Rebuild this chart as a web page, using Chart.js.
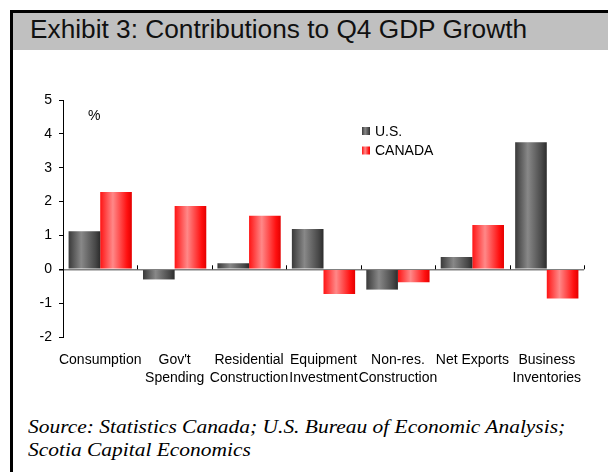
<!DOCTYPE html>
<html>
<head>
<meta charset="utf-8">
<script src="https://cdn.jsdelivr.net/npm/chart.js@4.4.1/dist/chart.umd.min.js"></script>
<style>
  body { margin: 0; background: #fff; }
  #wrap { position: relative; width: 608px; height: 472px; overflow: hidden; }
  #frame { position: absolute; left: 10px; top: 10px; width: 600px; height: 470px;
           border-left: 3px solid #000; border-top: 3px solid #000; }
  #band { position: absolute; left: 13px; top: 13px; width: 595px; height: 37px; background: #c0c0c0; }
  #title { position: absolute; left: 30px; top: 17px; font: 25px 'Liberation Sans', Arial, sans-serif;
           line-height: 25px; color: #111; white-space: nowrap;
           transform: scaleX(1.05); transform-origin: 0 0; }
  #source { position: absolute; left: 28px; top: 416px; font: italic 19.5px 'Liberation Serif', 'Times New Roman', serif;
            line-height: 22.5px; color: #000; white-space: nowrap;
            transform: scaleX(1.1); transform-origin: 0 0; }
  canvas { position: absolute; left: 0; top: 0; }
</style>
</head>
<body>
<div id="wrap">
  <div id="frame"></div>
  <div id="band"></div>
  <div id="title">Exhibit 3: Contributions to Q4 GDP Growth</div>
  <div id="source">Source: Statistics Canada; U.S. Bureau of Economic Analysis;<br>Scotia Capital Economics</div>
  <canvas id="gdp_chart" width="608" height="472"></canvas>
</div>
<script>
// contributions to Q4 GDP growth, percentage points
const categories = [
  ['Consumption'], ["Gov't", 'Spending'], ['Residential', 'Construction'],
  ['Equipment', 'Investment'], ['Non-res.', 'Construction'], ['Net Exports'], ['Business', 'Inventories']
];
const usValues = [1.12, -0.30, 0.18, 1.19, -0.60, 0.36, 3.75];
const canadaValues = [2.28, 1.87, 1.58, -0.73, -0.38, 1.31, -0.86];
const seriesNames = ['U.S.', 'CANADA'];
const yTicks = { min: -2, max: 5, step: 1 };

const CAT_PCT = 0.85;
const shades = [
  ['#3a3a3a', '#888888', '#474747', '#2c2c2c'],
  ['#ff1414', '#ff8888', '#ff1010', '#e40000']
];

function shadeGradient(c, left, width, stops) {
  const g = c.createLinearGradient(left, 0, left + width, 0);
  g.addColorStop(0, stops[0]);
  g.addColorStop(0.4, stops[1]);
  g.addColorStop(0.85, stops[2]);
  g.addColorStop(1, stops[3]);
  return g;
}

// cylinder-like horizontal shading, worked out from the x scale
function barFill(ctx) {
  const chart = ctx.chart;
  const xs = chart.scales.x;
  const stops = shades[ctx.datasetIndex];
  if (!xs || !chart.chartArea || ctx.dataIndex === undefined) return stops[1];
  const catW = xs.width / categories.length;
  const groupW = catW * CAT_PCT;
  const barW = groupW / 2;
  const left = xs.getPixelForValue(ctx.dataIndex) - groupW / 2 + ctx.datasetIndex * barW;
  return shadeGradient(chart.ctx, left, barW, stops);
}

const decorations = {
  id: 'decorations',
  afterDatasetsDraw(chart) {
    const c = chart.ctx;
    const xs = chart.scales.x, ys = chart.scales.y;
    const area = chart.chartArea;
    const y0 = ys.getPixelForValue(0);
    const catW = xs.width / categories.length;
    c.save();
    // small ticks between categories on the zero line
    c.strokeStyle = '#000';
    c.lineWidth = 1;
    for (let i = 1; i <= categories.length; i++) {
      const x = Math.round(xs.left + i * catW) + 0.5;
      c.beginPath();
      c.moveTo(x, y0 - 4);
      c.lineTo(x, y0);
      c.stroke();
    }
    // unit label
    c.fillStyle = '#000';
    c.font = '14px "Liberation Sans", Arial, sans-serif';
    c.textBaseline = 'middle';
    c.fillText('%', area.left + 25, area.top + 16);
    // legend
    seriesNames.forEach((name, i) => {
      const lx = area.left + 299, ly = area.top + 31 + i * 19.5;
      c.fillStyle = shadeGradient(c, lx, 8, shades[i]);
      c.fillRect(lx, ly - 4, 8, 8);
      c.fillStyle = '#000';
      c.fillText(name, lx + 13, ly + 1);
    });
    c.restore();
  }
};

Chart.defaults.font.family = '"Liberation Sans", Arial, sans-serif';
Chart.defaults.color = '#000';

new Chart(document.getElementById('gdp_chart'), {
  type: 'bar',
  data: {
    labels: categories,
    datasets: [
      { label: seriesNames[0], data: usValues, backgroundColor: barFill },
      { label: seriesNames[1], data: canadaValues, backgroundColor: barFill }
    ]
  },
  options: {
    responsive: false,
    animation: false,
    layout: { padding: { left: 33, right: 24, top: 100, bottom: 85 } },
    datasets: { bar: { categoryPercentage: CAT_PCT, barPercentage: 1, borderWidth: 0 } },
    plugins: { legend: { display: false }, tooltip: { enabled: false } },
    scales: {
      x: {
        grid: { display: false, drawTicks: false },
        border: { display: false },
        ticks: { font: { size: 14, lineHeight: '18px' }, padding: 14, maxRotation: 0, autoSkip: false },
        afterFit(scale) { scale.height = 50; }
      },
      y: {
        min: yTicks.min,
        max: yTicks.max,
        border: { color: '#000', width: 1 },
        grid: {
          color: ctx => (ctx.tick && ctx.tick.value === 0 ? '#808080' : 'rgba(0,0,0,0)'),
          lineWidth: ctx => (ctx.tick && ctx.tick.value === 0 ? 1.5 : 1),
          tickColor: '#000',
          tickLength: 4
        },
        ticks: { stepSize: yTicks.step, font: { size: 14 }, padding: 7 },
        afterFit(scale) { scale.width = 30; }
      }
    }
  },
  plugins: [decorations]
});
</script>
</body>
</html>
